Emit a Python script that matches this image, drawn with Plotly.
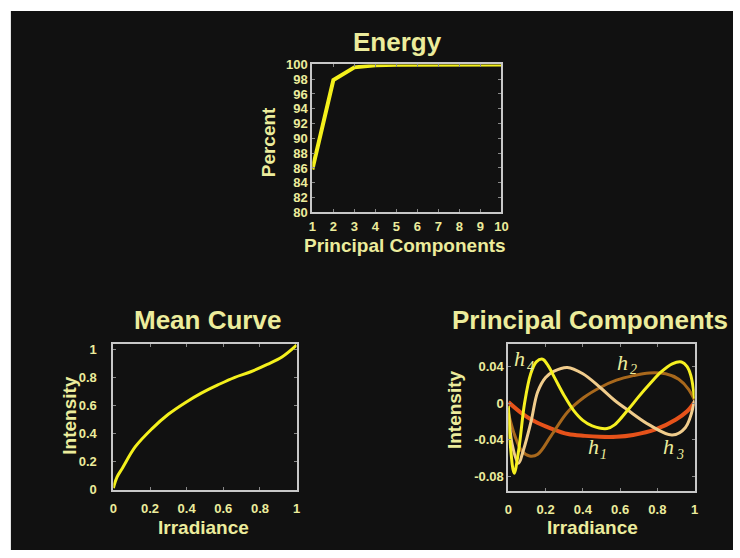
import plotly.graph_objects as go

# ---------------- data ----------------
energy_pc = [1, 2, 3, 4, 5, 6, 7, 8, 9, 10]
energy_pct = [85.8, 97.9, 99.6, 99.87, 99.95, 99.98, 99.99, 100.0, 100.0, 100.0]

mean_x = [0.0, 0.02, 0.05, 0.12, 0.21, 0.30, 0.39, 0.48, 0.57, 0.66, 0.75, 0.84, 0.92, 1.0]
mean_y = [0.012, 0.09, 0.155, 0.306, 0.433, 0.537, 0.618, 0.688, 0.746, 0.799, 0.84, 0.892, 0.945, 1.03]

h1_x = [0.0, 0.07, 0.14, 0.23, 0.32, 0.41, 0.49, 0.58, 0.67, 0.79, 0.9, 0.96, 1.0]
h1_y = [0.001, -0.011, -0.020, -0.028, -0.034, -0.036, -0.037, -0.037, -0.035, -0.029, -0.018, -0.009, 0.001]

h2_x = [0.0, 0.035, 0.07, 0.114, 0.158, 0.229, 0.317, 0.405, 0.493, 0.58, 0.67, 0.757, 0.845, 0.915, 0.968, 1.0]
h2_y = [-0.011, -0.036, -0.052, -0.058, -0.056, -0.036, -0.010, 0.006, 0.017, 0.025, 0.030, 0.033, 0.032, 0.026, 0.015, 0.003]

h3_x = [0.0, 0.02, 0.055, 0.08, 0.122, 0.157, 0.20, 0.246, 0.317, 0.40, 0.493, 0.57, 0.643, 0.757, 0.88, 0.95, 1.0]
h3_y = [-0.005, -0.045, -0.066, -0.052, -0.020, 0.012, 0.028, 0.035, 0.039, 0.032, 0.017, 0.003, -0.008, -0.024, -0.035, -0.027, 0.003]

h4_x = [0.0, 0.01, 0.031, 0.055, 0.087, 0.12, 0.15, 0.184, 0.21, 0.25, 0.30, 0.35, 0.40, 0.45, 0.53, 0.57, 0.64, 0.70, 0.76, 0.82, 0.88, 0.93, 0.96, 0.98, 1.0]
h4_y = [-0.003, -0.045, -0.077, -0.052, 0.0, 0.032, 0.045, 0.048, 0.042, 0.027, 0.008, -0.008, -0.019, -0.025, -0.028, -0.024, -0.008, 0.007, 0.021, 0.034, 0.043, 0.045, 0.040, 0.030, 0.005]

energy_yticks = [80, 82, 84, 86, 88, 90, 92, 94, 96, 98, 100]
unit_ticks = [0, 0.2, 0.4, 0.6, 0.8, 1]
unit_ticklabels = ["0", "0.2", "0.4", "0.6", "0.8", "1"]
pc_yticks = [0.04, 0, -0.04, -0.08]
pc_yticklabels = ["0.04", "0", "-0.04", "-0.08"]

# ---------------- styling ----------------
W, H = 740, 558
BG = "#111111"
TXT = "#ecec9c"
FRAME = "#c8c8c8"
FONT = "Liberation Sans, Arial, sans-serif"
SERIF = "Liberation Serif, Times New Roman, serif"


def fx(px):
    return px / W


def fy(py):
    return 1 - py / H


fig = go.Figure()

fig.add_trace(go.Scatter(x=energy_pc, y=energy_pct, mode="lines",
                         line=dict(color="#f4f01c", width=4), xaxis="x", yaxis="y"))
fig.add_trace(go.Scatter(x=mean_x, y=mean_y, mode="lines",
                         line=dict(color="#f4f01c", width=3, shape="spline"), xaxis="x2", yaxis="y2"))
for xs, ys, col, w in [(h1_x, h1_y, "#e6521a", 4), (h2_x, h2_y, "#a8681c", 3),
                       (h3_x, h3_y, "#f0cc8c", 3), (h4_x, h4_y, "#f6f020", 3)]:
    fig.add_trace(go.Scatter(x=xs, y=ys, mode="lines",
                             line=dict(color=col, width=w, shape="spline", smoothing=1.0),
                             xaxis="x3", yaxis="y3"))

tickfont = dict(family=FONT, size=13, color=TXT, weight="bold")
common = dict(showline=True, mirror="allticks", linecolor=FRAME, linewidth=2,
              ticks="inside", ticklen=3, tickcolor="#888888", showgrid=False,
              zeroline=False, tickfont=tickfont, fixedrange=True)

fig.update_layout(
    width=W, height=H,
    margin=dict(l=0, r=0, t=0, b=0),
    paper_bgcolor="white",
    plot_bgcolor=BG,
    showlegend=False,
    xaxis=dict(domain=[fx(313), fx(505)], range=[1, 10], tickvals=energy_pc,
               anchor="y", ticklabelstandoff=1, **common),
    yaxis=dict(domain=[fy(211), fy(59)], range=[80, 100], tickvals=energy_yticks,
               anchor="x", ticklabelstandoff=0, **common),
    xaxis2=dict(domain=[fx(111), fx(297)], range=[0, 1], tickvals=unit_ticks,
                ticktext=unit_ticklabels, anchor="y2", ticklabelstandoff=6, **common),
    yaxis2=dict(domain=[fy(496), fy(346)], range=[0, 1.04], tickvals=unit_ticks,
                ticktext=unit_ticklabels, anchor="x2", ticklabelstandoff=12, **common),
    xaxis3=dict(domain=[fx(512), fx(701)], range=[0, 1], tickvals=unit_ticks,
                ticktext=unit_ticklabels, anchor="y3", ticklabelstandoff=6, **common),
    yaxis3=dict(domain=[fy(497), fy(346)], range=[-0.096, 0.065], tickvals=pc_yticks,
                ticktext=pc_yticklabels, anchor="x3", ticklabelstandoff=0, **common),
)

# dark background panel (thin white strip at left/top as in the reference)
fig.add_shape(type="rect", xref="paper", yref="paper", x0=fx(7), x1=1, y0=0, y1=fy(4),
              fillcolor=BG, line=dict(width=0), layer="below")


def label(text, px, py, size, angle=0, bold=True, family=FONT, style="normal"):
    fig.add_annotation(text=text, x=fx(px), y=fy(py), xref="paper", yref="paper",
                       showarrow=False, xanchor="center", yanchor="middle", textangle=angle,
                       font=dict(family=family, size=size, color=TXT, style=style,
                                 weight="bold" if bold else "normal"))


label("Energy", 399, 36, 26)
label("Principal Components", 407, 245, 19)
label("Percent", 268, 139, 19, angle=-90)

label("Mean Curve", 207, 322, 26)
label("Intensity", 67, 420, 19, angle=-90)
label("Irradiance", 203, 535, 19)

label("Principal Components", 595, 322, 26)
label("Intensity", 458, 414, 19, angle=-90)
label("Irradiance", 597, 535, 19)

# component labels: italic h with a subscript index
for idx, hx, hy in [("4", 523, 361), ("2", 628, 365), ("1", 598, 452), ("3", 675, 452)]:
    label("h", hx, hy, 22, bold=False, family=SERIF, style="italic")
    label(idx, hx + 11, hy + 8, 14, bold=False, family=SERIF, style="italic")

fig.write_html("out.html", config={"displayModeBar": False},
               post_script="document.body.style.margin='0';document.body.style.overflow='hidden';")
